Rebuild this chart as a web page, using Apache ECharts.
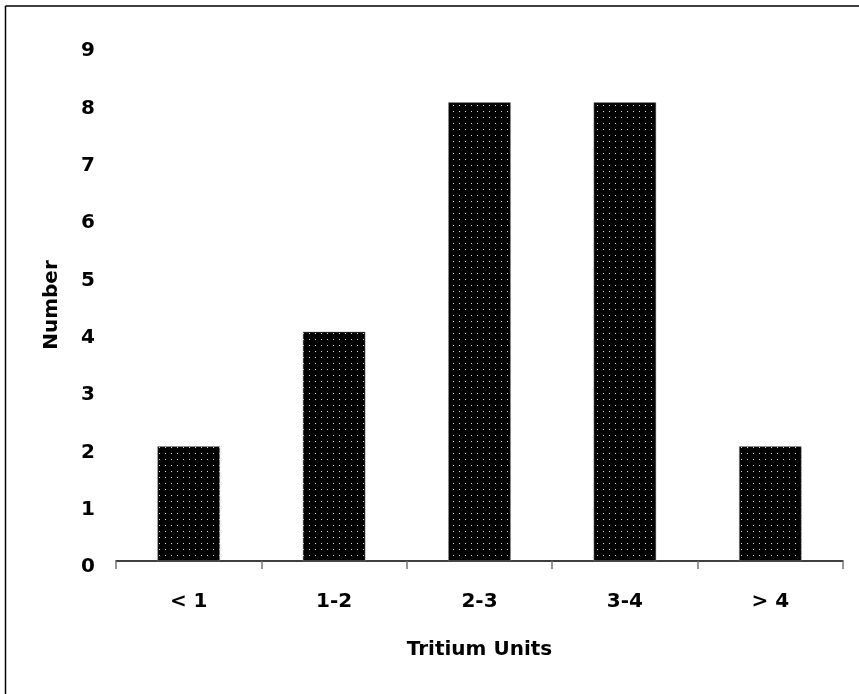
<!DOCTYPE html>
<html>
<head>
<meta charset="utf-8">
<script src="https://cdn.jsdelivr.net/npm/echarts@6/dist/echarts.min.js"></script>
<style>
  html, body { margin: 0; padding: 0; background: #fff; }
  #chart { width: 859px; height: 694px; }
</style>
</head>
<body>
<div id="chart"></div>
<script>
const categories = ['< 1', '1-2', '2-3', '3-4', '> 4']
const counts = [2, 4, 8, 8, 2]
const yTicks = [0, 9]

// black fill with small white dots, like the old stipple fill
function dotPattern() {
  const c = document.createElement('canvas')
  c.width = 6
  c.height = 6
  const ctx = c.getContext('2d')
  ctx.fillStyle = '#000'
  ctx.fillRect(0, 0, 6, 6)
  ctx.fillStyle = '#ddd'
  ctx.fillRect(3, 3, 1, 1)
  return c
}

const font = 'DejaVu Sans'
const myChart = echarts.init(document.getElementById('chart'))

const option = {
  backgroundColor: '#fff',
  animation: false,
  grid: { left: 116, right: 16, top: 45, bottom: 133 },
  graphic: [
    { type: 'line', shape: { x1: 5.5, y1: 6, x2: 859, y2: 6 }, style: { stroke: '#000', lineWidth: 1.5 } },
    { type: 'line', shape: { x1: 5.5, y1: 6, x2: 5.5, y2: 694 }, style: { stroke: '#000', lineWidth: 1.5 } },
    {
      type: 'text',
      style: { text: 'Number', font: 'bold 20px "' + font + '"', fill: '#000', align: 'center', verticalAlign: 'middle' },
      rotation: Math.PI / 2, x: 52, y: 305
    }
  ],
  xAxis: {
    type: 'category',
    data: categories,
    name: 'Tritium Units',
    nameLocation: 'middle',
    nameGap: 79,
    nameTextStyle: { fontFamily: font, fontWeight: 'bold', fontSize: 20, color: '#000' },
    axisLine: { lineStyle: { color: '#000', width: 1.5 } },
    axisTick: { show: true, interval: 0, length: 8, lineStyle: { color: '#777', width: 1.5 } },
    axisLabel: { fontFamily: font, fontWeight: 'bold', fontSize: 20, color: '#000', margin: 31 }
  },
  yAxis: {
    type: 'value',
    min: yTicks[0],
    max: yTicks[1],
    interval: 1,
    axisLine: { show: false },
    axisTick: { show: false },
    splitLine: { show: false },
    axisLabel: {
      fontFamily: font, fontWeight: 'bold', fontSize: 20, color: '#000',
      margin: 21, verticalAlign: 'top', lineHeight: 12
    }
  },
  series: [{
    type: 'bar',
    data: counts,
    barWidth: '43%',
    itemStyle: {
      color: { image: dotPattern(), repeat: 'repeat' },
      borderColor: '#999',
      borderWidth: 0.5
    }
  }]
}

myChart.setOption(option)
</script>
</body>
</html>
